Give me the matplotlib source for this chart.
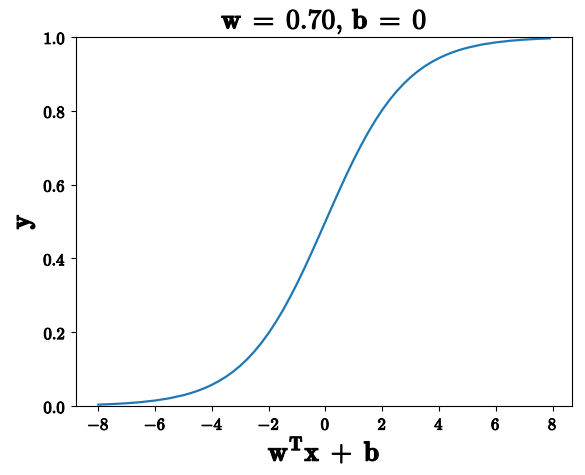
import matplotlib

matplotlib.use("Agg")
import matplotlib.pyplot as plt
import matplotlib.patheffects as pe
from matplotlib.ticker import FuncFormatter

plt.rcParams["mathtext.fontset"] = "cm"

# logistic output (w = 0.70, b = 0)
z = [-8.0, -7.5, -7.0, -6.5, -6.0, -5.5, -5.0, -4.75, -4.5, -4.25, -4.0,
     -3.75, -3.5, -3.25, -3.0, -2.75, -2.5, -2.25, -2.0, -1.75, -1.5, -1.25,
     -1.0, -0.75, -0.5, -0.25, 0.0, 0.25, 0.5, 0.75, 1.0, 1.25, 1.5, 1.75,
     2.0, 2.25, 2.5, 2.75, 3.0, 3.25, 3.5, 3.75, 4.0, 4.25, 4.5, 4.75, 5.0,
     5.5, 6.0, 6.5, 7.0, 7.5, 7.9]
y = [0.0037, 0.0052, 0.0074, 0.0105, 0.0148, 0.0208, 0.0293, 0.0347, 0.0411,
     0.0486, 0.0573, 0.0676, 0.0794, 0.0932, 0.1091, 0.1273, 0.1480, 0.1715,
     0.1978, 0.2271, 0.2592, 0.2943, 0.3318, 0.3717, 0.4134, 0.4564, 0.5000,
     0.5436, 0.5866, 0.6283, 0.6682, 0.7057, 0.7408, 0.7729, 0.8022, 0.8285,
     0.8520, 0.8727, 0.8909, 0.9068, 0.9206, 0.9324, 0.9427, 0.9514, 0.9589,
     0.9653, 0.9707, 0.9792, 0.9852, 0.9895, 0.9926, 0.9948, 0.9960]
x_ticks = [-8, -6, -4, -2, 0, 2, 4, 6, 8]
y_ticks = [0.0, 0.2, 0.4, 0.6, 0.8, 1.0]

# cmb10 is lighter than the bold-extended face, thicken it a bit
thick = [pe.withStroke(linewidth=0.7, foreground="black")]
thick_big = [pe.withStroke(linewidth=0.8, foreground="black")]

fig = plt.figure(figsize=(5.85, 4.75), dpi=100)
ax = fig.add_axes([0.1294, 0.1453, 0.849, 0.777])
ax.plot(z, y, color="#1f77b4", lw=1.6)
ax.set_ylim(0, 1)
ax.set_xticks(x_ticks)
ax.set_yticks(y_ticks)
ax.xaxis.set_major_formatter(FuncFormatter(lambda v, p: r"$\mathbf{%d}$" % v))
ax.yaxis.set_major_formatter(FuncFormatter(lambda v, p: r"$\mathbf{%.1f}$" % v))
ax.tick_params(labelsize=12)
for t in ax.get_xticklabels() + ax.get_yticklabels():
    t.set_path_effects(thick)
ax.set_title(r"$\mathbf{w}\;=\;\mathbf{0.70},\,\mathbf{b}\;=\;\mathbf{0}$",
             fontsize=20, path_effects=thick_big)
ax.set_xlabel(r"$\mathbf{w}^{\mathbf{T}}\mathbf{x}\;+\;\mathbf{b}$", fontsize=20,
              labelpad=2, path_effects=thick_big)
ax.set_ylabel(r"$\mathbf{y}$", fontsize=20, path_effects=thick_big)
fig.savefig("out.png", dpi=100)
